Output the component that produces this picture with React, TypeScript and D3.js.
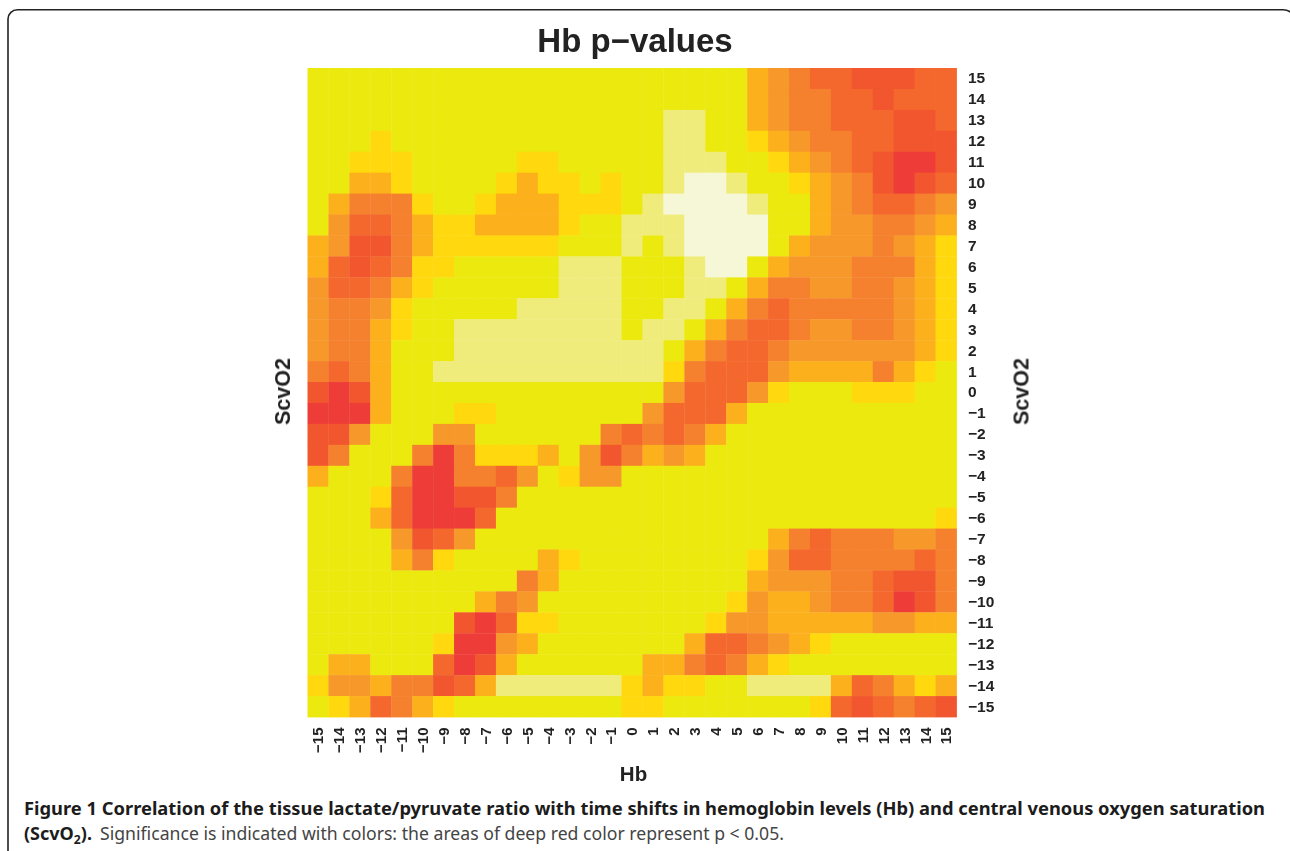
import React, { useEffect, useRef } from 'react';
import * as d3 from 'd3';

// lags on both axes
const hbLags = d3.range(-15, 16);
const scvo2Lags = d3.range(15, -16, -1);

// colour class per cell, one string per ScvO2 row from 15 down to -15
// 0 = deep red (p < 0.05), 7 = yellow background, 9 = almost white
// Hb -15 .. -1
const cellsLeft = [
  '777777777777777',
  '777777777777777',
  '777777777777777',
  '777677777777777',
  '776667777766777',
  '775567777656676',
  '753336776555666',
  '742235665555677',
  '541135666666777',
  '521236677777888',
  '422356777777888',
  '433467777788888',
  '433567788888888',
  '433577788888888',
  '323577888888888',
  '101577777777777',
  '000577766777777',
  '114777447777773',
  '137773036665741',
  '577730033247644',
  '777620011377777',
  '777520002777777',
  '777741247777777',
  '777753677775677',
  '777777777735777',
  '777777775347777',
  '777777710266777',
  '777777600457777',
  '755777201577777',
  '644533125888888',
  '765235677777777',
];

// Hb 0 .. 15
const cellsRight = [
  '7777775432211122',
  '7777775433221222',
  '7788775433222112',
  '7788776543322111',
  '7788877654321001',
  '7789987765431012',
  '7899998775432234',
  '8889999775443345',
  '8789999754443456',
  '7778997544433356',
  '7778875334433456',
  '7788753233333456',
  '7887532234433456',
  '8875322344444456',
  '8863222455553567',
  '7742224677766677',
  '7422257777777777',
  '2323577777777777',
  '3545777777777777',
  '7777777777777777',
  '7777777777777777',
  '7777777777777776',
  '7777777532333443',
  '7777776422333323',
  '7777775444332113',
  '7777764554332013',
  '7777644555554455',
  '7775223456777777',
  '7553235677777777',
  '6566778888523565',
  '6677777776212321',
];

const palette = [
  '#ee3e38',
  '#f1562f',
  '#f4682d',
  '#f5802d',
  '#f7982a',
  '#fcb01e',
  '#ffd909',
  '#ebe90f',
  '#f0ec7c',
  '#f5f7d6',
];

const caption1 =
  'Figure 1 Correlation of the tissue lactate/pyruvate ratio with time shifts in hemoglobin levels (Hb) and central venous oxygen saturation';
const caption2 =
  'Significance is indicated with colors: the areas of deep red color represent p < 0.05.';

const labelFont = '"Liberation Sans", Arial, sans-serif';
const captionFont = '"Noto Sans", sans-serif';

const App = () => {
  const bottomAxis = useRef<SVGGElement>(null);
  const rightAxis = useRef<SVGGElement>(null);

  const x = d3.scaleBand<number>().domain(hbLags).range([307.5, 956.5]);
  const y = d3.scaleBand<number>().domain(scvo2Lags).range([68, 717]);
  const colour = d3.scaleOrdinal<number, string>().domain(d3.range(10)).range(palette);
  const fmt = (d: number) => String(d).replace('-', '\u2212');

  useEffect(() => {
    const b = d3
      .select(bottomAxis.current)
      .call(d3.axisBottom(x).tickSize(0).tickFormat(fmt) as any);
    b.select('.domain').remove();
    b.selectAll('text')
      .attr('transform', 'rotate(-90)')
      .attr('x', -10.5)
      .attr('y', 0)
      .attr('dy', '0.36em')
      .attr('text-anchor', 'end')
      .style('font', `bold 15px ${labelFont}`)
      .attr('fill', '#222');

    const r = d3
      .select(rightAxis.current)
      .call(d3.axisRight(y).tickSize(0).tickFormat(fmt) as any);
    r.select('.domain').remove();
    r.selectAll('text')
      .attr('x', 11.5)
      .attr('text-anchor', 'start')
      .style('font', `bold 15.5px ${labelFont}`)
      .attr('fill', '#222');
  }, []);

  const rows = cellsLeft.map((l, i) => l + cellsRight[i]);

  return (
    <svg
      width={1290}
      height={851}
      style={{ position: 'absolute', left: 0, top: 0, background: '#fff' }}
    >
      <defs>
        <filter id="soft" x="-5%" y="-5%" width="110%" height="110%">
          <feGaussianBlur stdDeviation="0.7" />
        </filter>
        <filter id="softText" x="-5%" y="-5%" width="110%" height="110%">
          <feGaussianBlur stdDeviation="0.6" />
        </filter>
      </defs>

      {/* card outline, open at the bottom and running off the right edge */}
      <path
        d="M8,851 V19 A9.5,9.5 0 0 1 17.5,9.7 H1283 A13,13 0 0 1 1296,23 V851"
        fill="none"
        stroke="#222"
        strokeWidth={1.6}
      />

      <g filter="url(#soft)">
        {rows.map((row, i) =>
          row.split('').map((c, j) => (
            <rect
              key={`${i}-${j}`}
              x={x(hbLags[j])}
              y={y(scvo2Lags[i])}
              width={x.bandwidth() + 0.4}
              height={y.bandwidth() + 0.4}
              fill={colour(+c)}
            />
          ))
        )}
      </g>

      <g filter="url(#softText)">
        <g ref={bottomAxis} transform="translate(0,717)" />
        <g ref={rightAxis} transform="translate(956.5,0)" />

        <text
          x={635}
          y={52}
          textAnchor="middle"
          fontFamily={labelFont}
          fontWeight="bold"
          fontSize={33}
          fill="#222"
        >
          Hb p{'\u2212'}values
        </text>
        <text
          x={633.5}
          y={781}
          textAnchor="middle"
          fontFamily={labelFont}
          fontWeight="bold"
          fontSize={20.5}
          fill="#222"
        >
          Hb
        </text>
        <text
          transform="translate(290,391.5) rotate(-90)"
          textAnchor="middle"
          fontFamily={labelFont}
          fontWeight="bold"
          fontSize={21.5}
          fill="#222"
        >
          ScvO2
        </text>
        <text
          transform="translate(1028.5,391.5) rotate(-90)"
          textAnchor="middle"
          fontFamily={labelFont}
          fontWeight="bold"
          fontSize={21.5}
          fill="#222"
        >
          ScvO2
        </text>
      </g>

      <text
        x={24}
        y={815}
        fontFamily={captionFont}
        fontWeight="bold"
        fontSize={18.5}
        fill="#1c1c1c"
        textLength={1241}
        lengthAdjust="spacingAndGlyphs"
      >
        {caption1}
      </text>
      <text
        x={24}
        y={840}
        fontFamily={captionFont}
        fontWeight="bold"
        fontSize={18.5}
        fill="#1c1c1c"
        textLength={68}
        lengthAdjust="spacingAndGlyphs"
      >
        (ScvO
        <tspan fontSize={12.5} dy={4}>
          2
        </tspan>
        <tspan dy={-4}>).</tspan>
      </text>
      <text
        x={100}
        y={840}
        fontFamily={captionFont}
        fontSize={18.5}
        fill="#444"
        textLength={684}
        lengthAdjust="spacingAndGlyphs"
      >
        {caption2}
      </text>
    </svg>
  );
};

export default App;
